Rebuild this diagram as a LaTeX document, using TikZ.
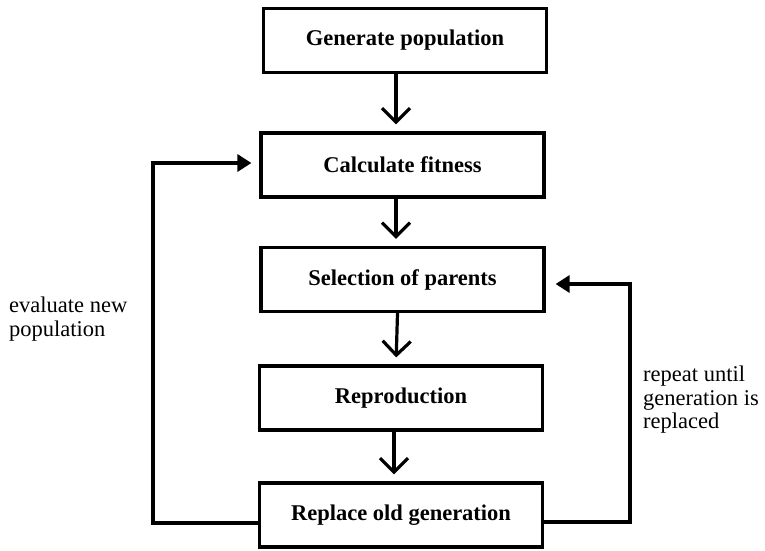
\documentclass[tikz,border=0pt]{standalone}
\usepackage{fontspec}
\setmainfont{Liberation Serif}
\usetikzlibrary{arrows.meta,calc}

\tikzset{
  stepbox/.style={draw, line width=3.2pt, minimum width=283pt, minimum height=64pt,
                  inner sep=0pt, font=\fontsize{22.5}{24}\selectfont\bfseries},
  flow/.style={line width=3.2pt, -{Straight Barb[length=14pt,width=28pt,line width=3.2pt]},
               shorten >=7pt},
  loop/.style={line width=3.2pt, -{Triangle[length=14pt,width=17pt]}},
  note/.style={align=left, inner sep=0pt, font=\fontsize{22.5}{23.5}\selectfont}
}

\begin{document}
\begin{tikzpicture}[x=1pt,y=-1pt]
  \useasboundingbox (0,0) rectangle (765,550);

  % process boxes
  \node[stepbox] (gen)  at (405,40.5) {Generate population};
  \node[stepbox] (calc) at (402.5,165) {Calculate fitness};
  \node[stepbox] (sel)  at (402.5,279.5) {Selection of parents};
  \node[stepbox] (rep)  at (401,398) {Reproduction};
  \node[stepbox] (repl) at (401,515) {Replace old generation};

  % straight flow between consecutive steps
  \draw[flow] ($(gen.south)+(-9,0)$)  -- ($(calc.north)+(-6.5,0)$);
  \draw[flow] ($(calc.south)+(-6.5,0)$) -- ($(sel.north)+(-6.5,0)$);
  \draw[flow] ($(sel.south)+(-5,0)$)  -- ($(rep.north)+(-5,0)$);
  \draw[flow] ($(rep.south)+(-7,0)$)  -- ($(repl.north)+(-7,0)$);

  % feedback loops
  \coordinate (lc) at (153,0);
  \coordinate (rc) at (630,0);
  \draw[loop] ($(repl.west)+(0,8)$) -| ($(lc)+(0,163)$) -- ($(calc.west)+(-8,-2)$);
  \draw[loop] ($(repl.east)+(0,7)$) -| ($(rc)+(0,284)$) -- ($(sel.east)+(10,4.5)$);

  % loop annotations
  \node[note, anchor=west] (evalnote) at (9,319) {evaluate new\\population};
  \node[note, anchor=west] (repnote) at (643,400) {repeat until\\generation is\\replaced};
\end{tikzpicture}
\end{document}
